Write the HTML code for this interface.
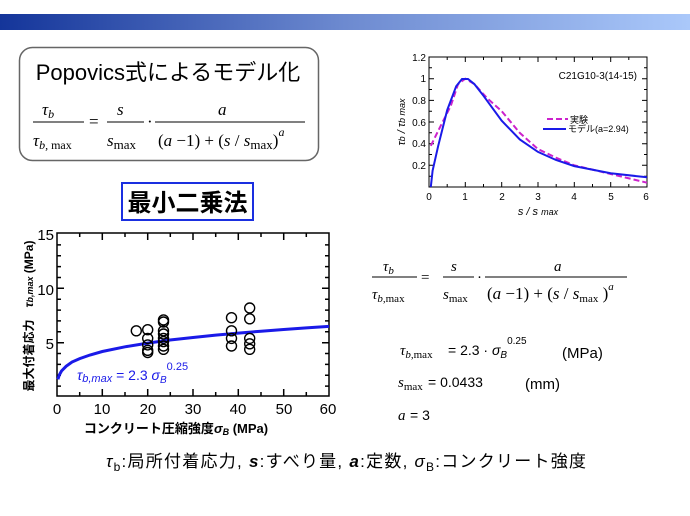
<!DOCTYPE html>
<html><head><meta charset="utf-8"><style>
html,body{margin:0;padding:0;background:#fff;}
svg{display:block;}
text{font-family:"Liberation Sans","Noto Sans CJK JP",sans-serif;}
.m text{font-family:"Liberation Serif","Noto Serif CJK SC",serif;}
</style></head><body>
<svg width="690" height="516" viewBox="0 0 690 516" xmlns="http://www.w3.org/2000/svg">
<defs><linearGradient id="g" x1="0" x2="1"><stop offset="0" stop-color="#14359a"/><stop offset="0.5" stop-color="#6d8ad0"/><stop offset="1" stop-color="#aac8fa"/></linearGradient></defs>
<rect x="0" y="14" width="690" height="16" fill="url(#g)"/>

<rect x="19.5" y="47.5" width="299" height="113" rx="13" fill="#fff" stroke="#666" stroke-width="1.5"/>
<text x="168" y="80" font-size="22" text-anchor="middle">Popovics式によるモデル化</text>
<g class="m" font-size="17" font-style="italic">
<text x="42" y="115">τ<tspan font-size="12" dy="3">b</tspan></text>
<line x1="33" y1="122" x2="84" y2="122" stroke="#000"/>
<text x="33" y="146">τ<tspan font-size="12" dy="3">b,</tspan><tspan font-style="normal" font-size="12"> max</tspan></text>
<text x="89" y="127" font-style="normal">=</text>
<text x="117" y="115">s</text>
<line x1="107" y1="122" x2="144" y2="122" stroke="#000"/>
<text x="107" y="146">s<tspan font-style="normal" font-size="13" dy="3">max</tspan></text>
<text x="147" y="127" font-style="normal">·</text>
<text x="218" y="115">a</text>
<line x1="155" y1="122" x2="305" y2="122" stroke="#000"/>
<text x="158" y="146"><tspan font-style="normal">(</tspan>a<tspan font-style="normal"> −1) + (</tspan>s<tspan font-style="normal"> / </tspan>s<tspan font-style="normal" font-size="13" dy="3">max</tspan><tspan font-style="normal" dy="-3">)</tspan><tspan font-size="12" dy="-10">a</tspan></text>
</g>

<rect x="122" y="183" width="131" height="37" fill="#fff" stroke="#1a2fe0" stroke-width="2"/>
<text x="187.5" y="211" font-size="24" text-anchor="middle" font-weight="bold">最小二乗法</text>

<g stroke="#000" stroke-width="1.5" fill="none">
<rect x="57" y="233" width="272" height="163"/>
<path d="M57 244.9h4M57 255.7h4M57 266.6h4M57 277.5h4M57 288.3h7M57 299.2h4M57 310.1h4M57 320.9h4M57 331.8h4M57 342.7h7M57 353.5h4M57 364.4h4M57 375.3h4M57 386.1h4"/>
<path d="M329 244.9h-4M329 255.7h-4M329 266.6h-4M329 277.5h-4M329 288.3h-7M329 299.2h-4M329 310.1h-4M329 320.9h-4M329 331.8h-4M329 342.7h-7M329 353.5h-4M329 364.4h-4M329 375.3h-4M329 386.1h-4"/>
<path d="M79.7 396v-4M102.3 396v-7M125 396v-4M147.7 396v-7M170.3 396v-4M193 396v-7M215.7 396v-4M238.3 396v-7M261 396v-4M283.7 396v-7M306.3 396v-4"/>
<path d="M79.7 233v4M102.3 233v7M125 233v4M147.7 233v7M170.3 233v4M193 233v7M215.7 233v4M238.3 233v7M261 233v4M283.7 233v7M306.3 233v4"/>
</g>
<g font-size="15" text-anchor="end">
<text x="54" y="240">15</text><text x="54" y="295">10</text><text x="54" y="349">5</text>
</g>
<g font-size="15" text-anchor="middle">
<text x="57" y="414">0</text><text x="102" y="414">10</text><text x="148" y="414">20</text><text x="193" y="414">30</text><text x="238" y="414">40</text><text x="284" y="414">50</text><text x="328" y="414">60</text>
</g>
<text x="176" y="433" font-size="13" font-weight="bold" text-anchor="middle">コンクリート圧縮強度<tspan font-style="italic">σ</tspan><tspan font-size="9" font-style="italic" dy="2">B</tspan><tspan dy="-2"> (MPa)</tspan></text>
<text transform="translate(33,316) rotate(-90)" font-size="12" font-weight="bold" text-anchor="middle">最大付着応力　<tspan font-style="italic">τ</tspan><tspan font-size="9" font-style="italic">b,max</tspan> (MPa)</text>
<polyline fill="none" stroke="#1a1ae8" stroke-width="3" points="57.9,379.3 59.3,375 61.5,371 66.1,366.3 72,362 79.7,358.6 90,355 102.3,351.5 125,346.8 147.7,343.1 170,340 193,337.5 215.7,335.1 238.3,333.1 261,331.2 283.7,329.5 306.3,327.9 329,326.4"/>
<g fill="none" stroke="#000" stroke-width="1.4">
<circle cx="136.3" cy="330.8" r="5"/>
<circle cx="147.7" cy="329.7" r="5"/><circle cx="147.7" cy="338.4" r="5"/><circle cx="147.7" cy="344.9" r="5"/><circle cx="147.7" cy="350.3" r="5"/><circle cx="147.7" cy="352.5" r="5"/>
<circle cx="163.5" cy="319.9" r="5"/><circle cx="163.5" cy="322" r="5"/><circle cx="163.5" cy="330.8" r="5"/><circle cx="163.5" cy="334" r="5"/><circle cx="163.5" cy="338.4" r="5"/><circle cx="163.5" cy="341.6" r="5"/><circle cx="163.5" cy="346" r="5"/><circle cx="163.5" cy="349.3" r="5"/>
<circle cx="231.5" cy="317.7" r="5"/><circle cx="231.5" cy="330.8" r="5"/><circle cx="231.5" cy="338.4" r="5"/><circle cx="231.5" cy="346" r="5"/>
<circle cx="249.7" cy="308" r="5"/><circle cx="249.7" cy="318.8" r="5"/><circle cx="249.7" cy="338.4" r="5"/><circle cx="249.7" cy="343.8" r="5"/><circle cx="249.7" cy="349.3" r="5"/>
</g>
<text x="77" y="380" font-size="14" fill="#1a1ae8"><tspan font-style="italic">τ</tspan><tspan font-size="11" font-style="italic" dy="2">b,max</tspan><tspan dy="-2"> = 2.3  </tspan><tspan font-style="italic">σ</tspan><tspan font-size="10" font-style="italic" dy="3">B</tspan><tspan font-size="11" dy="-13">0.25</tspan></text>

<g stroke="#000" stroke-width="1" fill="none">
<rect x="429" y="57" width="218" height="130"/>
<path d="M429 176.2h3M429 165.3h5M429 154.5h3M429 143.7h5M429 132.8h3M429 122h5M429 111.2h3M429 100.4h5M429 89.5h3M429 78.7h5M429 67.8h3"/>
<path d="M647 176.2h-3M647 165.3h-5M647 154.5h-3M647 143.7h-5M647 132.8h-3M647 122h-5M647 111.2h-3M647 100.4h-5M647 89.5h-3M647 78.7h-5M647 67.8h-3"/>
<path d="M447.2 187v-3M465.3 187v-5M483.5 187v-3M501.7 187v-5M519.8 187v-3M538 187v-5M556.2 187v-3M574.3 187v-5M592.5 187v-3M610.7 187v-5M628.8 187v-3"/>
<path d="M447.2 57v3M465.3 57v5M483.5 57v3M501.7 57v5M519.8 57v3M538 57v5M556.2 57v3M574.3 57v5M592.5 57v3M610.7 57v5M628.8 57v3"/>
</g>
<g font-size="10" text-anchor="end">
<text x="426" y="61">1.2</text><text x="426" y="82">1</text><text x="426" y="104">0.8</text><text x="426" y="126">0.6</text><text x="426" y="147">0.4</text><text x="426" y="169">0.2</text>
</g>
<g font-size="10" text-anchor="middle">
<text x="429" y="200">0</text><text x="465" y="200">1</text><text x="502" y="200">2</text><text x="538" y="200">3</text><text x="574" y="200">4</text><text x="611" y="200">5</text><text x="646" y="200">6</text>
</g>
<text x="538" y="215" font-size="11" font-style="italic" text-anchor="middle">s / s <tspan font-size="9">max</tspan></text>
<text transform="translate(405,122) rotate(-90)" font-size="11" font-style="italic" text-anchor="middle">τ<tspan font-size="9">b</tspan> /  τ<tspan font-size="9">b max</tspan></text>
<text x="637" y="79" font-size="10" text-anchor="end">C21G10-3(14-15)</text>
<line x1="547" y1="119" x2="568" y2="119" stroke="#cc22cc" stroke-width="2" stroke-dasharray="6,3"/>
<text x="570" y="123" font-size="9">実験</text>
<line x1="543" y1="129" x2="566" y2="129" stroke="#1a1ae8" stroke-width="2"/>
<text x="568" y="132" font-size="9">モデル(a=2.94)</text>
<polyline fill="none" stroke="#cc22cc" stroke-width="2" stroke-dasharray="6,3" points="430.8,145.8 439.9,127.4 450.8,105.8 458.1,84.1 465.3,78.7 474.4,84.1 487.1,98.2 501.7,111.2 519.8,132.9 538,149.1 556.2,157.8 574.3,165.3 610.7,174 647,182.7"/>
<polyline fill="none" stroke="#1a1ae8" stroke-width="2" points="430.8,187 432.6,170.7 438.1,146.3 447.2,110.1 456.2,86.2 462,79 468,79 474.4,84.1 483.5,95.8 501.7,120.7 519.8,139.5 538,151.9 556,160 574.3,166.1 610.7,173.2 647,177.3"/>

<g class="m" font-size="15" font-style="italic">
<text x="383" y="271">τ<tspan font-size="11" dy="3">b</tspan></text>
<line x1="372" y1="277" x2="417" y2="277" stroke="#000"/>
<text x="372" y="299">τ<tspan font-size="11" dy="3">b,</tspan><tspan font-style="normal" font-size="11">max</tspan></text>
<text x="421" y="282" font-style="normal">=</text>
<text x="451" y="271">s</text>
<line x1="443" y1="277" x2="474" y2="277" stroke="#000"/>
<text x="443" y="299">s<tspan font-style="normal" font-size="11" dy="3">max</tspan></text>
<text x="477" y="282" font-style="normal">·</text>
<text x="554" y="271">a</text>
<line x1="485" y1="277" x2="627" y2="277" stroke="#000"/>
<text x="487" y="299" font-size="17"><tspan font-style="normal">(</tspan>a<tspan font-style="normal"> −1) + (</tspan>s<tspan font-style="normal"> / </tspan>s<tspan font-style="normal" font-size="11" dy="3">max</tspan><tspan font-style="normal" dy="-3"> )</tspan><tspan font-size="11" dy="-9">a</tspan></text>
<text x="400" y="355">τ<tspan font-size="11" dy="3">b,</tspan><tspan font-style="normal" font-size="11">max</tspan></text>
<text x="398" y="387">s<tspan font-style="normal" font-size="11" dy="3">max</tspan></text>
<text x="398" y="420">a</text>
</g>
<g font-size="14">
<text x="448" y="355">= 2.3 · <tspan font-style="italic">σ</tspan><tspan font-size="10" font-style="italic" dy="3">B</tspan><tspan font-size="10" dy="-14">0.25</tspan></text>
<text x="562" y="358" font-size="15">(MPa)</text>
<text x="428" y="387">= 0.0433</text>
<text x="525" y="389" font-size="15">(mm)</text>
<text x="410" y="420">= 3</text>
</g>

<text x="106" y="467" font-size="17" textLength="480" lengthAdjust="spacing"><tspan font-style="italic">τ</tspan><tspan font-size="12" dy="4">b</tspan><tspan dy="-4">:局所付着応力, </tspan><tspan font-weight="bold" font-style="italic">s</tspan>:すべり量, <tspan font-weight="bold" font-style="italic">a</tspan>:定数,  <tspan font-style="italic">σ</tspan><tspan font-size="12" dy="4">B</tspan><tspan dy="-4">:コンクリート強度</tspan></text>
</svg>
</body></html>
